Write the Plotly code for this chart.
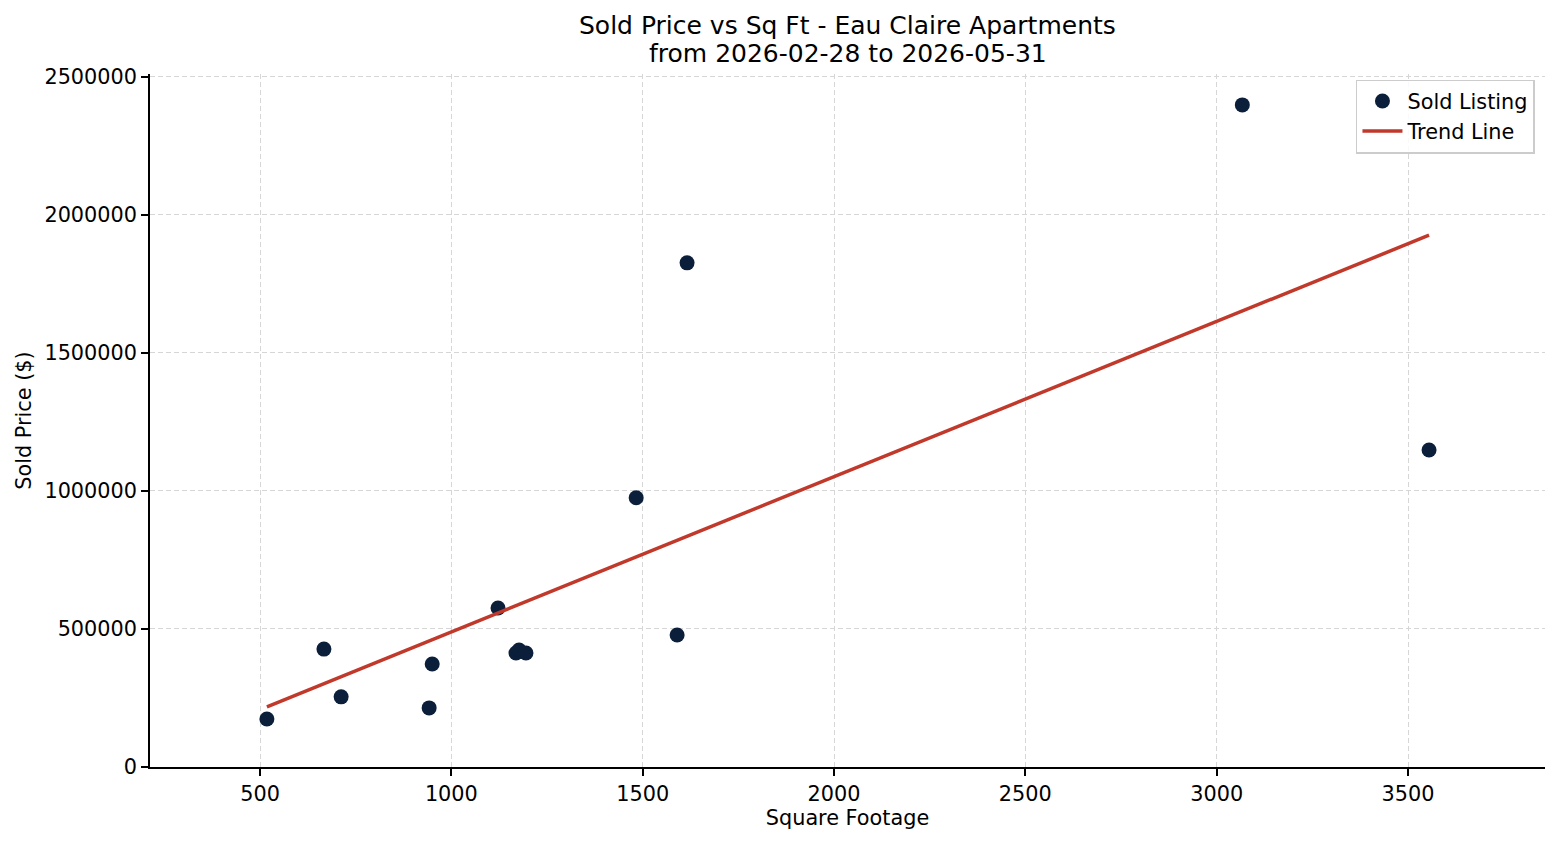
import plotly.graph_objects as go

# Data
sqft = [518, 667, 712, 942, 950, 1122, 1169, 1177, 1195, 1483, 1590, 1616, 3067, 3555]
sold_price = [174000, 427000, 254000, 214000, 373000, 576000, 413000, 424000, 413000,
              975000, 478000, 1826000, 2398000, 1148000]
trend_x = [518, 3555]
trend_y = [218000, 1926000]

x_ticks = [500, 1000, 1500, 2000, 2500, 3000, 3500]
y_ticks = [0, 500000, 1000000, 1500000, 2000000, 2500000]

title_lines = ["Sold Price vs Sq Ft - Eau Claire Apartments", "from 2026-02-28 to 2026-05-31"]

FONT = "DejaVu Sans"
fig = go.Figure()
fig.add_trace(go.Scatter(
    x=sqft, y=sold_price, mode="markers", name="Sold Listing",
    marker=dict(size=15, color="#0b1f3a", line=dict(width=0)),
))
fig.add_trace(go.Scatter(
    x=trend_x, y=trend_y, mode="lines", name="Trend Line",
    line=dict(color="#c0392b", width=3.5),
))

# Title as two centred lines above the plot area
for i, line in enumerate(title_lines):
    fig.add_annotation(
        text=line, xref="paper", yref="paper", x=0.5, xanchor="center",
        y=1 + (74 - 26 - 28 * i) / 693, yanchor="middle",
        showarrow=False, font=dict(family=FONT, size=25, color="black"),
    )

fig.update_layout(
    width=1560, height=845,
    margin=dict(l=150, r=15, t=74, b=78),
    paper_bgcolor="white", plot_bgcolor="white",
    font=dict(family=FONT, size=20.8, color="black"),
    showlegend=True,
    legend=dict(
        x=0.9928, y=0.992, xanchor="right", yanchor="top",
        xref="paper", yref="paper",
        bgcolor="rgba(255,255,255,0.85)", bordercolor="#cccccc", borderwidth=1.5,
        font=dict(family=FONT, size=20.8, color="black"),
        tracegroupgap=0, itemwidth=40,
    ),
    xaxis=dict(
        range=[212.5, 3858], tickvals=x_ticks, ticktext=[str(v) for v in x_ticks],
        showgrid=True, gridcolor="#d6d6d6", griddash="5px,3px", gridwidth=1,
        showline=True, linecolor="black", linewidth=1.6, mirror=False,
        ticks="outside", ticklen=7, tickwidth=1.6, tickcolor="black",
        zeroline=False,
        title=dict(text="Square Footage", font=dict(family=FONT, size=20.8), standoff=6),
        tickfont=dict(family=FONT, size=20.8),
    ),
    yaxis=dict(
        range=[0, 2510000], tickvals=y_ticks, ticktext=[str(v) for v in y_ticks],
        showgrid=True, gridcolor="#d6d6d6", griddash="5px,3px", gridwidth=1,
        showline=True, linecolor="black", linewidth=1.6, mirror=False,
        ticks="outside", ticklen=7, tickwidth=1.6, tickcolor="black",
        zeroline=False,
        title=dict(text="Sold Price ($)", font=dict(family=FONT, size=20.8), standoff=7),
        tickfont=dict(family=FONT, size=20.8),
    ),
)

fig.write_html("out.html")
